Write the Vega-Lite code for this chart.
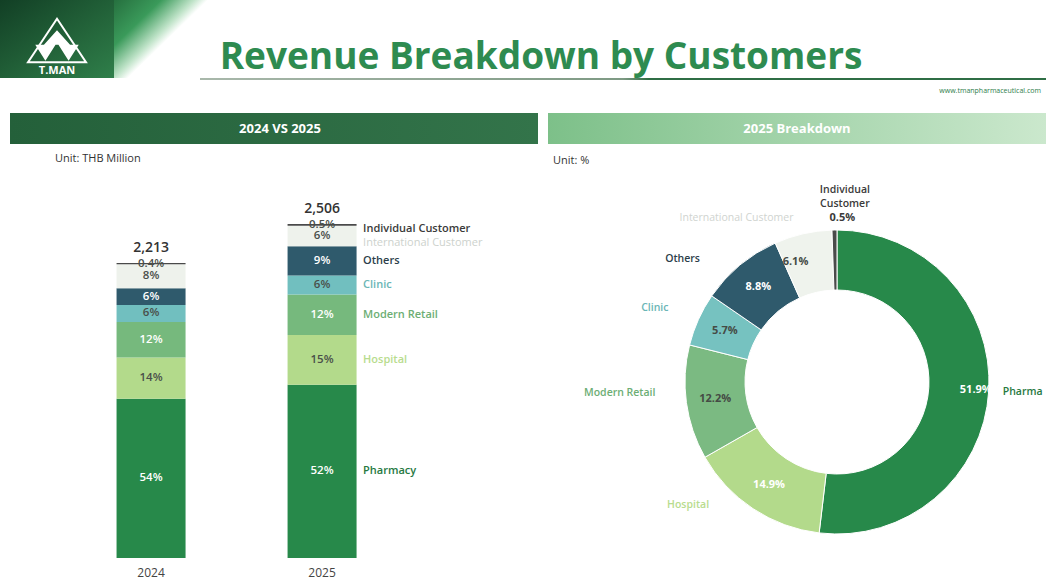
{
  "$schema": "https://vega.github.io/schema/vega-lite/v6.json",
  "background": "white",
  "padding": 0,
  "spacing": 0,
  "config": {"view": {"stroke": null}, "font": "Open Sans", "concat": {"spacing": 0}},
  "datasets": {
    "header": [{"title": "Revenue Breakdown by Customers", "url": "www.tmanpharmaceutical.com", "brand": "T.MAN", "left": "2024 VS 2025", "right": "2025 Breakdown"}],
    "rev": [
      {"year": "2024", "cat": "Pharmacy", "order": 1, "value": 1195, "label": "54%"},
      {"year": "2024", "cat": "Hospital", "order": 2, "value": 310, "label": "14%"},
      {"year": "2024", "cat": "Modern Retail", "order": 3, "value": 266, "label": "12%"},
      {"year": "2024", "cat": "Clinic", "order": 4, "value": 128, "label": "6%"},
      {"year": "2024", "cat": "Others", "order": 5, "value": 124, "label": "6%"},
      {"year": "2024", "cat": "International Customer", "order": 6, "value": 181, "label": "8%"},
      {"year": "2024", "cat": "Individual Customer", "order": 7, "value": 9, "label": "0.4%"},
      {"year": "2025", "cat": "Pharmacy", "order": 1, "value": 1300.0, "label": "52%", "share": "51.9%"},
      {"year": "2025", "cat": "Hospital", "order": 2, "value": 373.0, "label": "15%", "share": "14.9%"},
      {"year": "2025", "cat": "Modern Retail", "order": 3, "value": 304.8, "label": "12%", "share": "12.2%"},
      {"year": "2025", "cat": "Clinic", "order": 4, "value": 142.0, "label": "6%", "share": "5.7%"},
      {"year": "2025", "cat": "Others", "order": 5, "value": 219.5, "label": "9%", "share": "8.8%"},
      {"year": "2025", "cat": "International Customer", "order": 6, "value": 153.6, "label": "6%", "share": "6.1%"},
      {"year": "2025", "cat": "Individual Customer", "order": 7, "value": 13.2, "label": "0.5%", "share": "0.5%"}
    ],
    "totals": [
      {"year": "2024", "total": 2213, "label": "2,213"},
      {"year": "2025", "total": 2506.1, "label": "2,506"}
    ],
    "centre": [{"amount": "2,506.1", "unit": "Million THB", "year": "2025"}]
  },
  "vconcat": [
    {
      "spacing": 0,
      "hconcat": [
        {
          "width": 114, "height": 78,
          "data": {"name": "header"},
          "layer": [
            {"mark": {"type": "rect", "fill": {"gradient": "linear", "x1": 0, "y1": 0, "x2": 1, "y2": 1, "stops": [{"offset": 0, "color": "#123f25"}, {"offset": 0.6, "color": "#24663b"}, {"offset": 1, "color": "#2f7f4a"}]}}, "encoding": {}},
            {"mark": {"type": "point", "shape": "M0,-0.7L1,0.8L-1,0.8Z", "size": 3364, "filled": false, "stroke": "white", "strokeWidth": 2, "opacity": 1}, "encoding": {}},
            {"mark": {"type": "point", "shape": "M-0.75,0.2L-0.05,0.2L-0.4,0.75Z M0.05,0.2L0.75,0.2L0.4,0.75Z M-0.45,0.2L0,-0.3L0.45,0.2", "size": 3364, "filled": true, "fill": "white", "opacity": 1}, "encoding": {}},
            {"mark": {"type": "text", "color": "white", "fontWeight": "bold", "fontSize": 11, "dy": 32}, "encoding": {"text": {"field": "brand"}}}
          ]
        },
        {
          "width": 932, "height": 78,
          "data": {"name": "header"},
          "layer": [
            {"mark": {"type": "rect", "fill": {"gradient": "linear", "x1": 0, "y1": 0, "x2": 1, "y2": 0.086, "stops": [{"offset": 0, "color": "#26703f"}, {"offset": 0.05, "color": "#3a9a5a"}, {"offset": 0.085, "color": "#bfe3c8"}, {"offset": 0.1, "color": "#ffffff"}, {"offset": 1, "color": "#ffffff"}]}}, "encoding": {}},
            {"mark": {"type": "text", "color": "#2e8b50", "fontWeight": "bold", "fontSize": 37, "dx": -39, "dy": 19, "baseline": "middle"}, "encoding": {"text": {"field": "title"}}}
          ]
        }
      ]
    },
    {
      "spacing": 0,
      "hconcat": [
        {"width": 200, "height": 2, "data": {"name": "header"}, "mark": {"type": "rect", "opacity": 0}, "encoding": {}},
        {"width": 846, "height": 2, "data": {"name": "header"}, "mark": {"type": "rect", "fill": {"gradient": "linear", "x1": 0, "y1": 0, "x2": 1, "y2": 0, "stops": [{"offset": 0, "color": "#a9b8ab"}, {"offset": 0.5, "color": "#7e9a84"}, {"offset": 0.53, "color": "#2f6e45"}, {"offset": 1, "color": "#2f6e45"}]}}, "encoding": {}}
      ]
    },
    {
      "width": 1046, "height": 33,
      "data": {"name": "header"},
      "mark": {"type": "text", "align": "right", "dx": -5, "dy": -6, "fontSize": 7, "color": "#2e7d4a"},
      "encoding": {"x": {"value": "width"}, "text": {"field": "url"}}
    },
    {
      "spacing": 0,
      "resolve": {"scale": {"color": "independent"}},
      "hconcat": [
        {"width": 10, "height": 1, "data": {"name": "header"}, "mark": {"type": "rect", "opacity": 0}, "encoding": {}},
        {
          "spacing": 9,
          "vconcat": [
            {
              "width": 528, "height": 31,
              "data": {"name": "header"},
              "layer": [
                {"mark": {"type": "rect", "fill": {"gradient": "linear", "x1": 0, "y1": 0, "x2": 1, "y2": 0, "stops": [{"offset": 0, "color": "#24603a"}, {"offset": 1, "color": "#33744a"}]}}, "encoding": {}},
                {"mark": {"type": "text", "color": "white", "fontWeight": "bold", "fontSize": 13, "dx": 6}, "encoding": {"text": {"field": "left"}}}
              ]
            },
            {
              "width": 528, "height": 388,
              "title": {"text": "Unit: THB Million", "anchor": "start", "dx": 45, "offset": 6, "fontSize": 11, "fontWeight": "normal", "color": "#333333", "font": "Open Sans"},
              "resolve": {"scale": {"color": "independent"}},
              "encoding": {
                "x": {"field": "year", "type": "nominal", "title": null,
                  "scale": {"paddingInner": 0.5965, "paddingOuter": 0.842, "align": 0.37},
                  "axis": {"domain": false, "ticks": false, "grid": false, "labelAngle": 0, "labelFontSize": 12, "labelColor": "#444444", "labelPadding": 9, "labelFont": "Open Sans"}}
              },
              "layer": [
                {
                  "data": {"name": "rev"},
                  "transform": [{"stack": "value", "groupby": ["year"], "sort": [{"field": "order", "order": "ascending"}], "as": ["v0", "v1"]}],
                  "mark": {"type": "bar"},
                  "encoding": {
                    "y": {"field": "v0", "type": "quantitative", "scale": {"domain": [0, 2911], "nice": false}, "axis": null},
                    "y2": {"field": "v1"},
                    "color": {"field": "cat", "type": "nominal", "legend": null,
                      "scale": {"domain": ["Pharmacy", "Hospital", "Modern Retail", "Clinic", "Others", "International Customer", "Individual Customer"],
                        "range": ["#27894a", "#b3da8b", "#76b97d", "#71bfbf", "#2f5a6c", "#eef2ec", "#4a4a4a"]}}
                  }
                },
                {
                  "data": {"name": "rev"},
                  "transform": [{"stack": "value", "groupby": ["year"], "sort": [{"field": "order", "order": "ascending"}], "as": ["v0", "v1"]}, {"calculate": "(datum.v0 + datum.v1) / 2", "as": "mid"}],
                  "mark": {"type": "text", "fontSize": 11.5, "fontWeight": 600, "baseline": "middle"},
                  "encoding": {
                    "y": {"field": "mid", "type": "quantitative", "axis": null},
                    "text": {"field": "label", "type": "nominal"},
                    "color": {"condition": {"test": "indexof(['Pharmacy','Modern Retail','Others'], datum.cat) >= 0", "value": "#ffffff"}, "value": "#4a4f4a"}
                  }
                },
                {
                  "data": {"name": "totals"},
                  "mark": {"type": "text", "fontSize": 14, "fontWeight": 600, "color": "#333333", "dy": -15, "baseline": "middle"},
                  "encoding": {
                    "y": {"field": "total", "type": "quantitative", "axis": null},
                    "text": {"field": "label", "type": "nominal"}
                  }
                },
                {
                  "data": {"name": "rev"},
                  "transform": [{"stack": "value", "groupby": ["year"], "sort": [{"field": "order", "order": "ascending"}], "as": ["v0", "v1"]}, {"calculate": "(datum.v0 + datum.v1) / 2", "as": "mid"}, {"filter": "datum.year === '2025'"}],
                  "mark": {"type": "text", "align": "left", "dx": 41, "fontSize": 11, "fontWeight": 600, "baseline": "middle"},
                  "encoding": {
                    "y": {"field": "mid", "type": "quantitative", "axis": null},
                    "text": {"condition": {"test": "datum.order <= 5", "field": "cat", "type": "nominal"}, "value": ""},
                    "color": {"field": "cat", "type": "nominal", "legend": null,
                      "scale": {"domain": ["Pharmacy", "Hospital", "Modern Retail", "Clinic", "Others", "International Customer", "Individual Customer"],
                        "range": ["#26793f", "#b8dc8e", "#6cae74", "#6ab6b6", "#2c3e4a", "#cfd4cf", "#3a3a3a"]}}
                  }
                },
                {
                  "data": {"name": "rev"},
                  "transform": [{"stack": "value", "groupby": ["year"], "sort": [{"field": "order", "order": "ascending"}], "as": ["v0", "v1"]}, {"calculate": "(datum.v0 + datum.v1) / 2", "as": "mid"}, {"filter": "datum.year === '2025'"}],
                  "mark": {"type": "text", "align": "left", "dx": 41, "dy": 4, "fontSize": 11, "fontWeight": 600, "baseline": "middle", "color": "#3a3a3a"},
                  "encoding": {
                    "y": {"field": "mid", "type": "quantitative", "axis": null},
                    "text": {"condition": {"test": "datum.order === 7", "field": "cat", "type": "nominal"}, "value": ""}
                  }
                },
                {
                  "data": {"name": "rev"},
                  "transform": [{"stack": "value", "groupby": ["year"], "sort": [{"field": "order", "order": "ascending"}], "as": ["v0", "v1"]}, {"calculate": "(datum.v0 + datum.v1) / 2", "as": "mid"}, {"filter": "datum.year === '2025'"}],
                  "mark": {"type": "text", "align": "left", "dx": 41, "dy": 7, "fontSize": 11, "fontWeight": "normal", "baseline": "middle", "color": "#cdd2cd"},
                  "encoding": {
                    "y": {"field": "mid", "type": "quantitative", "axis": null},
                    "text": {"condition": {"test": "datum.order === 6", "field": "cat", "type": "nominal"}, "value": ""}
                  }
                }
              ]
            }
          ]
        },
        {"width": 10, "height": 1, "data": {"name": "header"}, "mark": {"type": "rect", "opacity": 0}, "encoding": {}},
        {
          "spacing": 0,
          "bounds": "flush",
          "vconcat": [
            {
              "width": 498, "height": 31,
              "data": {"name": "header"},
              "layer": [
                {"mark": {"type": "rect", "fill": {"gradient": "linear", "x1": 0, "y1": 0, "x2": 1, "y2": 0, "stops": [{"offset": 0, "color": "#7dc089"}, {"offset": 1, "color": "#cbe8cd"}]}}, "encoding": {}},
                {"mark": {"type": "text", "color": "white", "fontWeight": "bold", "fontSize": 13}, "encoding": {"text": {"field": "right"}}}
              ]
            },
            {
              "width": 498, "height": 56,
              "data": {"name": "header"},
              "title": {"text": "Unit: %", "anchor": "start", "dx": 5, "offset": -22, "fontSize": 11, "fontWeight": "normal", "color": "#333333", "font": "Open Sans"},
              "mark": {"type": "rect", "opacity": 0},
              "encoding": {}
            },
            {
              "spacing": 0,
              "bounds": "flush",
              "hconcat": [
                {"width": 80, "height": 1, "data": {"name": "header"}, "mark": {"type": "rect", "opacity": 0}, "encoding": {}},
                {
                  "width": 418, "height": 364,
                  "data": {"name": "rev"},
                  "transform": [{"filter": "datum.year === '2025'"}],
                  "encoding": {
                    "theta": {"field": "value", "type": "quantitative", "stack": true},
                    "order": {"field": "order", "type": "quantitative"}
                  },
                  "layer": [
                    {
                      "mark": {"type": "arc", "innerRadius": 92, "outerRadius": 152, "stroke": "white", "strokeWidth": 1},
                      "encoding": {
                        "color": {"field": "cat", "type": "nominal", "legend": null,
                          "scale": {"domain": ["Pharmacy", "Hospital", "Modern Retail", "Clinic", "Others", "International Customer", "Individual Customer"],
                            "range": ["#27894a", "#b3da8b", "#7bba82", "#76c2c0", "#2f5a6c", "#eff3ed", "#4a4a4a"]}}
                      }
                    },
                    {
                      "mark": {"type": "text", "radius": 123, "fontSize": 11, "fontWeight": "bold", "baseline": "middle"},
                      "encoding": {
                        "text": {"condition": {"test": "indexof(['Hospital','Modern Retail','Clinic','Others'], datum.cat) >= 0", "field": "share", "type": "nominal"}, "value": ""},
                        "color": {"condition": {"test": "indexof(['Hospital','Others'], datum.cat) >= 0", "value": "#ffffff"}, "value": "#454b45"}
                      }
                    },
                    {
                      "mark": {"type": "text", "radius": 139, "fontSize": 11, "fontWeight": "bold", "baseline": "middle", "color": "#ffffff"},
                      "encoding": {"text": {"condition": {"test": "datum.cat === 'Pharmacy'", "field": "share", "type": "nominal"}, "value": ""}}
                    },
                    {
                      "mark": {"type": "text", "radius": 123, "dx": -14, "fontSize": 11, "fontWeight": "bold", "baseline": "middle", "color": "#454b45"},
                      "encoding": {"text": {"condition": {"test": "datum.cat === 'International Customer'", "field": "share", "type": "nominal"}, "value": ""}}
                    },
                    {
                      "mark": {"type": "text", "radius": 164, "dx": 8, "fontSize": 11, "fontWeight": "bold", "baseline": "middle", "color": "#3a3a3a"},
                      "encoding": {"text": {"condition": {"test": "datum.cat === 'Individual Customer'", "field": "share", "type": "nominal"}, "value": ""}}
                    },
                    {
                      "mark": {"type": "text", "radius": 190, "dx": -33, "dy": 23, "fontSize": 10.5, "fontWeight": 600, "baseline": "middle", "color": "#2c3e4a"},
                      "encoding": {"text": {"condition": {"test": "datum.cat === 'Others'", "field": "cat", "type": "nominal"}, "value": ""}}
                    },
                    {
                      "mark": {"type": "text", "radius": 190, "dx": -9, "dy": 4, "fontSize": 10.5, "fontWeight": 600, "baseline": "middle", "color": "#6ab6b6"},
                      "encoding": {"text": {"condition": {"test": "datum.cat === 'Clinic'", "field": "cat", "type": "nominal"}, "value": ""}}
                    },
                    {
                      "mark": {"type": "text", "radius": 190, "dx": -29, "dy": -15, "fontSize": 10.5, "fontWeight": 600, "baseline": "middle", "color": "#6cae74"},
                      "encoding": {"text": {"condition": {"test": "datum.cat === 'Modern Retail'", "field": "cat", "type": "nominal"}, "value": ""}}
                    },
                    {
                      "mark": {"type": "text", "radius": 190, "dx": -44, "dy": -35, "fontSize": 10.5, "fontWeight": 600, "baseline": "middle", "color": "#b8dc8e"},
                      "encoding": {"text": {"condition": {"test": "datum.cat === 'Hospital'", "field": "cat", "type": "nominal"}, "value": ""}}
                    },
                    {
                      "mark": {"type": "text", "radius": 166, "align": "left", "limit": 45, "ellipsis": " ", "fontSize": 10.5, "fontWeight": 600, "baseline": "middle", "color": "#26793f"},
                      "encoding": {"text": {"condition": {"test": "datum.cat === 'Pharmacy'", "field": "cat", "type": "nominal"}, "value": ""}}
                    },
                    {
                      "mark": {"type": "text", "radius": 190, "dx": -58, "dy": 21, "fontSize": 10.5, "fontWeight": "normal", "baseline": "middle", "color": "#d0d4d0"},
                      "encoding": {"text": {"condition": {"test": "datum.cat === 'International Customer'", "field": "cat", "type": "nominal"}, "value": ""}}
                    },
                    {
                      "mark": {"type": "text", "radius": 190, "dx": 11, "dy": -2, "fontSize": 10.5, "fontWeight": 600, "baseline": "middle", "lineBreak": " ", "lineHeight": 14, "color": "#3a3a3a"},
                      "encoding": {"text": {"condition": {"test": "datum.cat === 'Individual Customer'", "field": "cat", "type": "nominal"}, "value": ""}}
                    },
                    {
                      "data": {"name": "centre"},
                      "mark": {"type": "text", "fontSize": 18, "fontWeight": "bold", "color": "#333333", "dx": 3, "dy": -28, "baseline": "middle"},
                      "encoding": {"text": {"field": "amount", "type": "nominal"}}
                    },
                    {
                      "data": {"name": "centre"},
                      "mark": {"type": "text", "fontSize": 17, "fontWeight": "bold", "color": "#333333", "dx": 3, "dy": -2, "baseline": "middle"},
                      "encoding": {"text": {"field": "unit", "type": "nominal"}}
                    },
                    {
                      "data": {"name": "centre"},
                      "mark": {"type": "text", "fontSize": 18, "fontWeight": "normal", "color": "#333333", "dx": 3, "dy": 22, "baseline": "middle"},
                      "encoding": {"text": {"field": "year", "type": "nominal"}}
                    }
                  ]
                }
              ]
            }
          ]
        }
      ]
    }
  ]
}
